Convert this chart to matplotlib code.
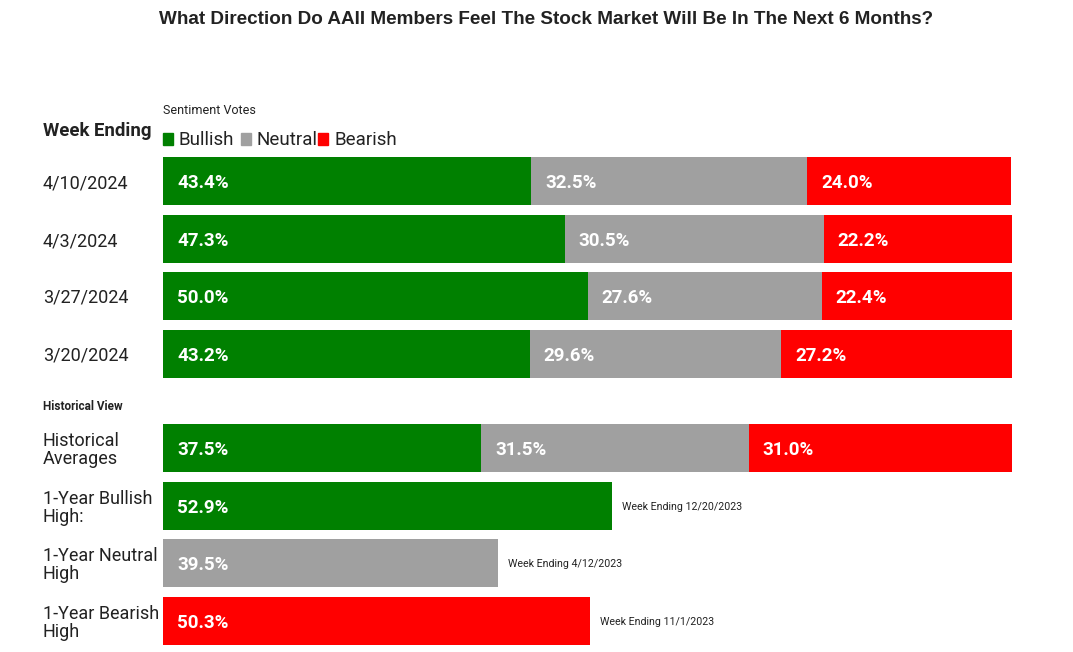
import matplotlib.pyplot as plt
from matplotlib.patches import Rectangle

# weekly sentiment
weeks = ['4/10/2024', '4/3/2024', '3/27/2024', '3/20/2024']
bullish = [43.4, 47.3, 50.0, 43.2]
neutral = [32.5, 30.5, 27.6, 29.6]
bearish = [24.0, 22.2, 22.4, 27.2]

# historical view
hist_label = 'Historical\nAverages'
hist_values = [37.5, 31.5, 31.0]
high_labels = ['1-Year Bullish\nHigh:', '1-Year Neutral\nHigh', '1-Year Bearish\nHigh']
high_values = [52.9, 39.5, 50.3]
high_dates = ['Week Ending 12/20/2023', 'Week Ending 4/12/2023', 'Week Ending 11/1/2023']

GREEN = '#008000'
GREY = '#a0a0a0'
RED = '#ff0000'
colors = [GREEN, GREY, RED]
TXT = '#222222'
FONT = 'Roboto'

W, H = 1073, 652
fig = plt.figure(figsize=(W / 100, H / 100), dpi=100)
fig.set_facecolor('white')

# axes: x in percent (0..100 spans bar area), y in pixel rows
x0, x1 = 163, 1012
ax = fig.add_axes([x0 / W, 0, (x1 - x0) / W, 1])
ax.set_xlim(0, 100)
ax.set_ylim(H, 0)
ax.axis('off')

px = 100 / (x1 - x0)  # percent per pixel
lab_x = (43 - x0) * px
bar_h = 48

def label_values(y, lefts, widths):
    for l, w in zip(lefts, widths):
        ax.text(l + 14 * px, y + 2, f'{w:.1f}%', color='white', fontsize=13.5,
                fontweight='bold', family=FONT, va='center', ha='left')

# weekly rows
week_y = [181, 239, 296, 354]
for i, wk in enumerate(weeks):
    y = week_y[i]
    vals = [bullish[i], neutral[i], bearish[i]]
    lefts = [0, bullish[i], bullish[i] + neutral[i]]
    ax.barh(y, vals, left=lefts, height=bar_h, color=colors)
    label_values(y, lefts, vals)
    ax.text(lab_x, y + 2, wk, fontsize=13, color=TXT, family=FONT, va='center', ha='left')

# historical averages
hy = 448
hl = [0, hist_values[0], hist_values[0] + hist_values[1]]
ax.barh(hy, hist_values, left=hl, height=bar_h, color=colors)
label_values(hy, hl, hist_values)
ax.text(lab_x, hy + 2, hist_label, fontsize=13, color=TXT, family=FONT, va='center',
        ha='left', linespacing=0.95)

# one-year highs
high_y = [506, 563, 621]
for i in range(3):
    y = high_y[i]
    ax.barh(y, high_values[i], height=bar_h, color=colors[i])
    label_values(y, [0], [high_values[i]])
    ax.text(lab_x, y + 2, high_labels[i], fontsize=13, color=TXT, family=FONT,
            va='center', ha='left', linespacing=0.95)
    ax.text(high_values[i] + 10 * px, y + 1, high_dates[i], fontsize=7.7, color=TXT,
            family=FONT, va='center', ha='left')

# headers
ax.text(lab_x, 131, 'Week Ending', fontsize=13.4, fontweight='bold', color=TXT,
        family=FONT, va='center', ha='left')
ax.text(0, 110, 'Sentiment Votes', fontsize=9, color=TXT, family=FONT,
        va='center', ha='left')
ax.text(lab_x, 407, 'Historical View', fontsize=8.5, fontweight='bold', color=TXT,
        family=FONT, va='center', ha='left')

# legend
leg_x = [163, 241, 318]
for name, c, lx in zip(['Bullish', 'Neutral', 'Bearish'], colors, leg_x):
    ax.add_patch(Rectangle(((lx - x0) * px, 133), 10 * px, 12, color=c, clip_on=False))
    ax.text((lx + 16 - x0) * px, 140, name, fontsize=13.5, color=TXT, family=FONT,
            va='center', ha='left')

fig.text(546 / W, 1 - 20 / H, 'What Direction Do AAII Members Feel The Stock Market Will Be In The Next 6 Months?',
         fontsize=13.6, fontweight='bold', color=TXT, family='Liberation Sans',
         ha='center', va='center')

fig.savefig('out.png', dpi=100, facecolor='white')
